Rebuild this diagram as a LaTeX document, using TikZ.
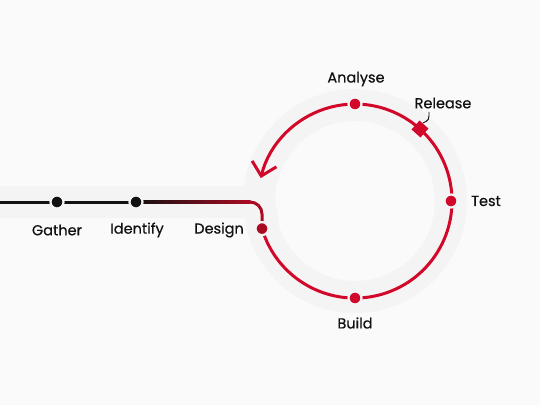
\documentclass[tikz,border=0pt]{standalone}
\usepackage{fontspec}
\setmainfont{Poppins}[UprightFeatures={FakeBold=0.5}]
\usetikzlibrary{arrows.meta}
\definecolor{paper}{HTML}{FAFAFA}
\definecolor{band}{HTML}{F4F4F4}
\definecolor{track}{HTML}{D2082A}
\definecolor{trackdark}{HTML}{AC0A22}
\definecolor{ink}{HTML}{111111}
\tikzset{
  dot/.style={circle, fill=#1, draw=band, line width=2.2pt, inner sep=0pt, minimum size=13pt},
  steplabel/.style={font=\fontsize{14.5}{17}\selectfont, text=ink, inner sep=0pt},
  trackline/.style={line width=3pt},
}
\begin{document}
\begin{tikzpicture}[x=1pt,y=1pt]
\fill[paper] (0,0) rectangle (540,405);
\useasboundingbox (0,0) rectangle (540,405);

% grey band behind the track
\draw[band, line width=32pt] (355,204) circle (96pt);
\draw[band, line width=32pt, rounded corners=16pt] (-10,203) -- (262,203) -- (262,176);

% the track
\coordinate (start) at (0,203);
\coordinate (corner) at (262,203);
\coordinate (design pt) at (262,176.4);
\draw[ink, trackline] (start) -- (136,203);
\shade[left color=ink, right color=trackdark] (136,201.5) rectangle (250.5,204.5);
\draw[trackdark, trackline, rounded corners=12pt] (249,203) -- (corner) -- (design pt);
\draw[track, trackline, -{Straight Barb[length=12.5pt, width=25pt]}]
  (design pt) arc[start angle=196.5, end angle=526.3, radius=97pt];

% release marker
\node[fill=track, minimum size=12pt, inner sep=0pt, rotate=48] (release) at (420,276) {};
\draw[ink, line width=0.9pt] (429,293) .. controls (429,285) .. (423,282);

% steps
\node[dot=ink] (gather) at (57,203) {};
\node[dot=ink] (identify) at (136,203) {};
\node[dot=trackdark] (design) at (262,176.4) {};
\node[dot=track] (build) at (355,107) {};
\node[dot=track] (test) at (451,204) {};
\node[dot=track] (analyse) at (355,301) {};

\node[steplabel] (gather label) at (57,175) {Gather};
\node[steplabel] (identify label) at (137,175) {Identify};
\node[steplabel, anchor=east] (design label) at (244,175) {Design};
\node[steplabel] (build label) at (355,82) {Build};
\node[steplabel, anchor=west] (test label) at (471,204) {Test};
\node[steplabel] (analyse label) at (356,326) {Analyse};
\node[steplabel] (release label) at (443,302) {Release};
\end{tikzpicture}
\end{document}
